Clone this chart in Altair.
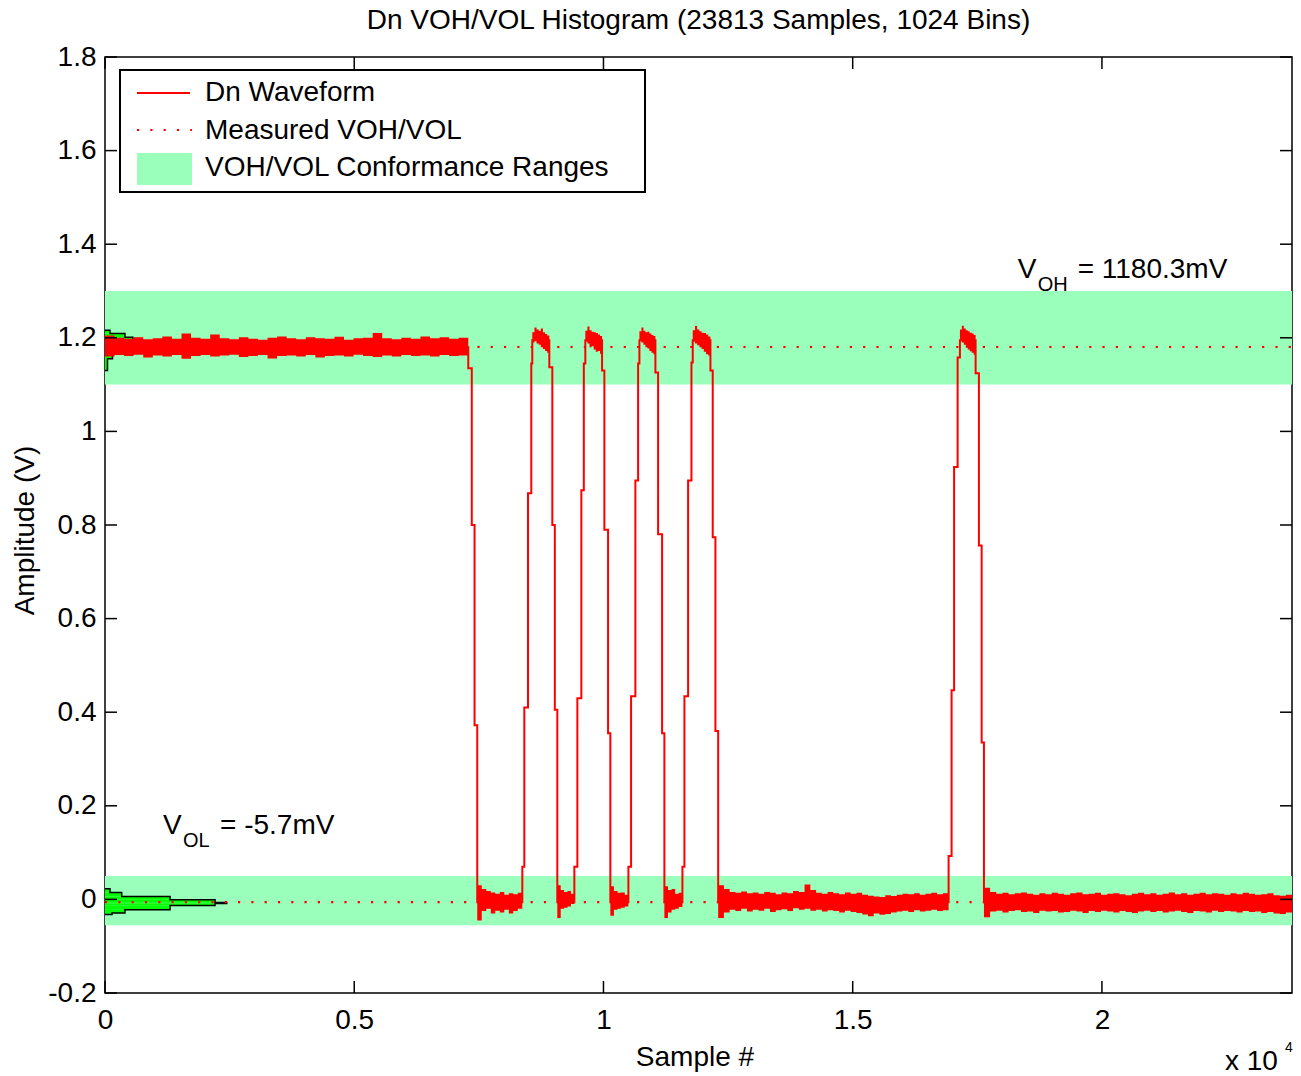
import altair as alt
import pandas as pd
import numpy as np

FONT = "Liberation Sans"
N_SAMPLES = 23813
TITLE = "Dn VOH/VOL Histogram (23813 Samples, 1024 Bins)"

# Measured levels (V)
meas_names = ["VOH", "VOL"]
meas_levels = [1.1803, -0.0057]

# Conformance ranges (V)
band_lo = [1.10, -0.055]
band_hi = [1.30, 0.05]

# Waveform skeleton (sample #, V), drawn as steps
wave_x = [0, 7288, 7358, 7414, 7468,
          8372, 8412, 8486, 8552, 8572,
          8914, 8974, 9024, 9074,
          9416, 9476, 9556, 9606, 9636,
          9972, 10018, 10092, 10138,
          10500, 10554, 10640, 10695, 10721,
          11042, 11096, 11176, 11222,
          11584, 11624, 11698, 11765, 11791,
          12146, 12192, 12246, 12301,
          16924, 16984, 17034, 17105, 17151,
          17466, 17532, 17587, 17633, 23813]
wave_y = [1.180, 1.135, 0.800, 0.372, -0.006,
          0.070, 0.410, 0.868, 1.145, 1.195,
          1.137, 0.800, 0.405, -0.006,
          0.070, 0.430, 0.874, 1.145, 1.195,
          1.130, 0.790, 0.355, -0.006,
          0.070, 0.434, 0.895, 1.145, 1.195,
          1.126, 0.780, 0.355, -0.006,
          0.070, 0.434, 0.895, 1.147, 1.195,
          1.130, 0.774, 0.360, -0.006,
          0.093, 0.447, 0.924, 1.158, 1.195,
          1.124, 0.756, 0.335, -0.006, -0.006]

# Noise envelopes of the flat parts
seg_start = [0, 8572, 9636, 10721, 11791, 17151, 7468, 9074, 10138, 11222, 12301, 17633]
seg_end = [7288, 8914, 9972, 11042, 12146, 17466, 8372, 9416, 10500, 11584, 16924, 23813]
seg_hi = [
    [1.205, 1.200, 1.198, 1.201, 1.197, 1.199, 1.203, 1.198, 1.209, 1.200, 1.198, 1.207, 1.199,
     1.197, 1.201, 1.198, 1.196, 1.200, 1.203, 1.199, 1.197, 1.201, 1.199, 1.198, 1.202, 1.196,
     1.199, 1.200, 1.210, 1.199, 1.197, 1.200, 1.198, 1.203, 1.199, 1.201, 1.198, 1.200],
    [1.212, 1.222, 1.218, 1.215, 1.220, 1.212, 1.208, 1.205],
    [1.215, 1.224, 1.216, 1.213, 1.212, 1.210, 1.207, 1.204],
    [1.214, 1.222, 1.215, 1.212, 1.213, 1.209, 1.206, 1.204],
    [1.216, 1.225, 1.218, 1.214, 1.211, 1.210, 1.207, 1.203],
    [1.218, 1.226, 1.220, 1.216, 1.214, 1.211, 1.209, 1.206],
    [0.030, 0.022, 0.018, 0.015, 0.012, 0.016, 0.010, 0.013, 0.011, 0.014],
    [0.030, 0.020, 0.016, 0.018, 0.012],
    [0.028, 0.018, 0.014, 0.015, 0.010],
    [0.028, 0.020, 0.022, 0.012, 0.014],
    [0.030, 0.022, 0.016, 0.014, 0.017, 0.013, 0.015, 0.012, 0.016, 0.014, 0.011, 0.015, 0.013,
     0.018, 0.016, 0.032, 0.020, 0.014, 0.012, 0.016, 0.013, 0.011, 0.015, 0.012, 0.014, 0.010,
     0.008, 0.006, 0.005, 0.009, 0.007, 0.010, 0.012, 0.011, 0.013, 0.010, 0.012, 0.014, 0.011, 0.013],
    [0.025, 0.016, 0.012, 0.014, 0.011, 0.013, 0.015, 0.012, 0.010, 0.013, 0.011, 0.014, 0.012,
     0.010, 0.013, 0.015, 0.011, 0.012, 0.014, 0.010, 0.012, 0.013, 0.011, 0.009, 0.012, 0.014,
     0.011, 0.013, 0.010, 0.012, 0.015, 0.011, 0.013, 0.010, 0.012, 0.014, 0.011, 0.013, 0.012,
     0.010, 0.013, 0.011, 0.014, 0.012, 0.010, 0.011, 0.013, 0.009, 0.008, 0.010],
]
seg_lo = [
    [1.160, 1.163, 1.161, 1.164, 1.158, 1.162, 1.160, 1.163, 1.155, 1.161, 1.163, 1.160, 1.162,
     1.164, 1.159, 1.161, 1.163, 1.156, 1.161, 1.162, 1.160, 1.163, 1.158, 1.161, 1.162, 1.160,
     1.164, 1.161, 1.159, 1.162, 1.160, 1.163, 1.161, 1.162, 1.160, 1.163, 1.161, 1.162],
    [1.190, 1.196, 1.188, 1.185, 1.180, 1.176, 1.172, 1.168],
    [1.192, 1.188, 1.180, 1.182, 1.175, 1.170, 1.172, 1.166],
    [1.193, 1.190, 1.185, 1.180, 1.177, 1.172, 1.168, 1.165],
    [1.192, 1.188, 1.184, 1.180, 1.176, 1.170, 1.165, 1.162],
    [1.195, 1.190, 1.185, 1.179, 1.175, 1.171, 1.168, 1.164],
    [-0.045, -0.025, -0.020, -0.030, -0.024, -0.028, -0.022, -0.030, -0.025, -0.020],
    [-0.040, -0.020, -0.018, -0.015, -0.010],
    [-0.035, -0.022, -0.020, -0.018, -0.015],
    [-0.040, -0.028, -0.022, -0.020, -0.016],
    [-0.040, -0.028, -0.022, -0.025, -0.020, -0.026, -0.022, -0.024, -0.020, -0.027, -0.023,
     -0.021, -0.025, -0.019, -0.022, -0.020, -0.024, -0.022, -0.026, -0.023, -0.025, -0.028,
     -0.024, -0.027, -0.029, -0.032, -0.036, -0.030, -0.033, -0.031, -0.028, -0.026, -0.024,
     -0.027, -0.023, -0.026, -0.024, -0.022, -0.025, -0.023],
    [-0.038, -0.026, -0.024, -0.028, -0.025, -0.023, -0.027, -0.026, -0.029, -0.024, -0.026,
     -0.025, -0.028, -0.027, -0.024, -0.026, -0.029, -0.025, -0.027, -0.024, -0.026, -0.028,
     -0.025, -0.027, -0.029, -0.026, -0.024, -0.027, -0.025, -0.028, -0.026, -0.024, -0.027,
     -0.029, -0.025, -0.026, -0.028, -0.024, -0.027, -0.025, -0.026, -0.028, -0.025, -0.027,
     -0.026, -0.029, -0.027, -0.030, -0.031, -0.028],
]

# Histograms (bin edges in V, bar length in sample-axis units)
hist_low_lo = [-0.032, -0.0293, -0.022, -0.0128, -0.0085, -0.0064, -0.0006, 0.0064, 0.0150]
hist_low_hi = [-0.0293, -0.022, -0.0128, -0.0085, -0.0064, -0.0006, 0.0064, 0.0150, 0.0229]
hist_low_len = [140, 400, 1305, 2208, 2443, 2208, 1305, 335, 100]
hist_high_lo = [1.130, 1.155, 1.165, 1.176, 1.188, 1.201, 1.209]
hist_high_hi = [1.155, 1.165, 1.176, 1.188, 1.201, 1.209, 1.216]
hist_high_len = [50, 150, 380, 520, 560, 400, 100]

xtick_vals = [0, 5000, 10000, 15000, 20000]
ytick_vals = [-0.2, 0, 0.2, 0.4, 0.6, 0.8, 1, 1.2, 1.4, 1.6, 1.8]

legend_labels = ["Dn Waveform", "Measured VOH/VOL", "VOH/VOL Conformance Ranges"]

ann_x = [18309, 1164]
ann_y = [1.344, 0.156]
ann_sub = ["OH", "OL"]
ann_rest = ["= 1180.3mV", "= -5.7mV"]

# ---------------- build tables ----------------
W, H = 1187, 936
xs = alt.Scale(domain=[0, N_SAMPLES], nice=False, zero=False)
ys = alt.Scale(domain=[-0.2, 1.8], nice=False, zero=False)
RED = "#ff0000"

# one shared axis definition for every layer so the merged axes survive
XAX = alt.Axis(values=xtick_vals, labelExpr="'' + (datum.value / 10000)", title="Sample #",
               titleX=589.5, titleY=64, titleBaseline="middle",
               labelPadding=13, labelFlush=False, labelOverlap=False)
YAX = alt.Axis(values=ytick_vals, labelExpr="'' + datum.value", title="Amplitude (V)",
               titleX=-80, titleY=473, titleBaseline="middle", titleAngle=-90,
               labelPadding=9, labelFlush=False, labelOverlap=False)


def X(f):
    return alt.X(f, scale=xs, axis=XAX)


def Y(f):
    return alt.Y(f, scale=ys, axis=YAX)


bands_df = pd.DataFrame({"lo": band_lo, "hi": band_hi, "x0": 0, "x1": N_SAMPLES})
meas_df = pd.DataFrame({"name": meas_names, "level": meas_levels, "x0": 0, "x1": N_SAMPLES})
wave_df = pd.DataFrame({"x": wave_x, "y": wave_y})

env_rows = []
for sid, (s, e, his, los) in enumerate(zip(seg_start, seg_end, seg_hi, seg_lo)):
    n = len(his)
    pos = np.linspace(s, e, n + 1)
    for i in range(n):
        env_rows.append({"seg": sid, "x": float(pos[i]), "hi": his[i], "lo": los[i]})
    env_rows.append({"seg": sid, "x": float(pos[n]), "hi": his[-1], "lo": los[-1]})
env_df = pd.DataFrame(env_rows)

hist_rows, outline_rows = [], []
for g, (los, his, lens) in enumerate([(hist_low_lo, hist_low_hi, hist_low_len),
                                      (hist_high_lo, hist_high_hi, hist_high_len)]):
    k = 0
    outline_rows.append({"g": g, "k": k, "x": 0, "y": los[0]})
    for lo, hi, ln in zip(los, his, lens):
        hist_rows.append({"g": g, "lo": lo, "hi": hi, "x0": 0, "len": ln})
        k += 1
        outline_rows.append({"g": g, "k": k, "x": ln, "y": lo})
        k += 1
        outline_rows.append({"g": g, "k": k, "x": ln, "y": hi})
    k += 1
    outline_rows.append({"g": g, "k": k, "x": 0, "y": his[-1]})
hist_df = pd.DataFrame(hist_rows)
outline_df = pd.DataFrame(outline_rows)

ann_df = pd.DataFrame({"x": ann_x, "y": ann_y, "sub": ann_sub, "rest": ann_rest})
one = pd.DataFrame({"a": [0]})

# ---------------- layers ----------------
bands = alt.Chart(bands_df).mark_rect(color="#99ffbb").encode(
    x=X("x0:Q"), x2="x1:Q", y=Y("lo:Q"), y2="hi:Q")

hist = alt.Chart(hist_df).mark_rect(color="#00ff00", strokeWidth=0).encode(
    x=X("x0:Q"), x2="len:Q", y=Y("lo:Q"), y2="hi:Q")
hist_line = alt.Chart(outline_df).mark_line(color="black", strokeWidth=1.5).encode(
    x=X("x:Q"), y=Y("y:Q"), detail="g:N", order="k:Q")

meas = alt.Chart(meas_df).mark_rule(color=RED, strokeWidth=2.2, strokeDash=[2.2, 11.1]).encode(
    x=X("x0:Q"), x2="x1:Q", y=Y("level:Q"))

noise = alt.Chart(env_df).mark_area(color=RED, interpolate="step-after", opacity=1).encode(
    x=X("x:Q"), y=Y("lo:Q"), y2="hi:Q", detail="seg:N")

wave = alt.Chart(wave_df).mark_line(color=RED, strokeWidth=2, interpolate="step-after").encode(
    x=X("x:Q"), y=Y("y:Q"))

ann_base = alt.Chart(ann_df).encode(x=X("x:Q"), y=Y("y:Q"))
ann_v = ann_base.mark_text(align="left", baseline="middle", font=FONT, fontSize=28,
                           color="black").encode(text=alt.value("V"))
ann_s = ann_base.mark_text(align="left", baseline="middle", font=FONT, fontSize=20,
                           color="black", dx=20, dy=15).encode(text="sub:N")
ann_r1 = alt.Chart(ann_df.iloc[[0]]).mark_text(
    align="left", baseline="middle", font=FONT, fontSize=28, color="black", dx=60
).encode(x=X("x:Q"), y=Y("y:Q"), text="rest:N")
ann_r2 = alt.Chart(ann_df.iloc[[1]]).mark_text(
    align="left", baseline="middle", font=FONT, fontSize=28, color="black", dx=57
).encode(x=X("x:Q"), y=Y("y:Q"), text="rest:N")

# inward ticks on all four sides
xt_df = pd.DataFrame({"v": xtick_vals})
yt_df = pd.DataFrame({"v": ytick_vals})
TL = 12
tk = dict(color="black", strokeWidth=1.5)
xt_bot = alt.Chart(xt_df).mark_rule(**tk).encode(
    x=X("v:Q"), y=alt.value(H), y2=alt.value(H - TL))
xt_top = alt.Chart(xt_df).mark_rule(**tk).encode(
    x=X("v:Q"), y=alt.value(0), y2=alt.value(TL))
yt_left = alt.Chart(yt_df).mark_rule(**tk).encode(
    y=Y("v:Q"), x=alt.value(0), x2=alt.value(TL))
yt_right = alt.Chart(yt_df).mark_rule(**tk).encode(
    y=Y("v:Q"), x=alt.value(W), x2=alt.value(W - TL))

# legend (drawn by hand)
leg_box = alt.Chart(one).mark_rect(fill="white", stroke="black", strokeWidth=2).encode(
    x=alt.value(15), x2=alt.value(540), y=alt.value(13), y2=alt.value(135))
leg_line = alt.Chart(one).mark_rule(color=RED, strokeWidth=2).encode(
    x=alt.value(32), x2=alt.value(85), y=alt.value(36))
leg_dot = alt.Chart(one).mark_rule(color=RED, strokeWidth=2.2, strokeDash=[2.2, 11.1]).encode(
    x=alt.value(32), x2=alt.value(87), y=alt.value(73))
leg_patch = alt.Chart(one).mark_rect(color="#99ffbb").encode(
    x=alt.value(32), x2=alt.value(87), y=alt.value(96), y2=alt.value(128))
leg_rows = [36, 73.5, 111]
leg_texts = [
    alt.Chart(one).mark_text(align="left", baseline="middle", font=FONT, fontSize=28,
                             color="black").encode(
        x=alt.value(100), y=alt.value(yy), text=alt.value(lbl))
    for lbl, yy in zip(legend_labels, leg_rows)
]

# x 10^4 multiplier
mult = alt.Chart(one).mark_text(align="left", baseline="middle", font=FONT, fontSize=28,
                                color="black").encode(
    x=alt.value(1120), y=alt.value(1005), text=alt.value("x 10"))
mult_exp = alt.Chart(one).mark_text(align="left", baseline="middle", font=FONT, fontSize=14,
                                    color="black").encode(
    x=alt.value(1180), y=alt.value(991), text=alt.value("4"))

chart = alt.layer(
    bands, hist, hist_line, meas, noise, wave,
    ann_v, ann_s, ann_r1, ann_r2,
    xt_bot, xt_top, yt_left, yt_right,
    leg_box, leg_line, leg_dot, leg_patch, *leg_texts,
    mult, mult_exp,
).properties(
    width=W, height=H,
    title=alt.Title(TITLE, font=FONT, fontSize=28, fontWeight="normal", anchor="middle",
                    offset=8, color="black"),
    autosize=alt.AutoSizeParams(type="none"),
    padding={"left": 105, "top": 57, "right": 9, "bottom": 83},
).configure_view(
    stroke="black", strokeWidth=1.5
).configure_axis(
    grid=False, domain=False, ticks=False, tickSize=0,
    labelFont=FONT, labelFontSize=28, labelColor="black",
    titleFont=FONT, titleFontSize=28, titleFontWeight="normal", titleColor="black",
)

chart.save("out.html", embed_options={"renderer": "svg", "actions": False})
